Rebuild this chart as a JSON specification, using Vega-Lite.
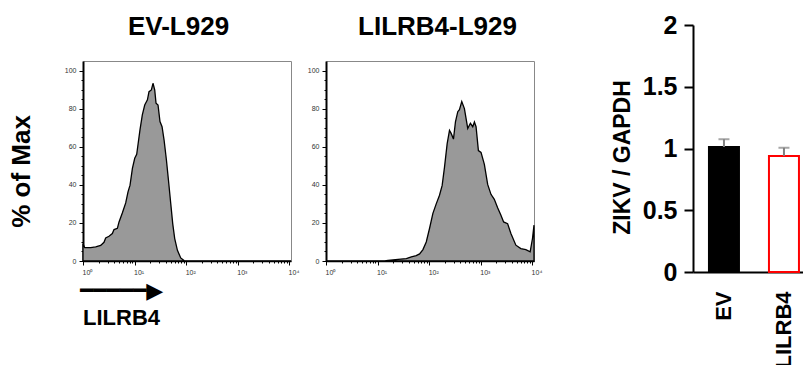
{
  "$schema": "https://vega.github.io/schema/vega-lite/v6.json",
  "padding": {"left": 7, "top": 12, "right": 0, "bottom": 0},
  "background": "white",
  "spacing": 68,
  "config": {
    "font": "Liberation Sans",
    "view": {"stroke": "#888", "strokeWidth": 1},
    "axis": {"labelFont": "Liberation Sans", "titleFont": "Liberation Sans", "grid": false},
    "title": {"font": "Liberation Sans"}
  },
  "datasets": {
    "ev": [
      {"fl": 1.0, "pct": 9},
      {"fl": 1.08, "pct": 7.0},
      {"fl": 1.41, "pct": 7.0},
      {"fl": 1.76, "pct": 7.4},
      {"fl": 2.2, "pct": 8.2},
      {"fl": 2.55, "pct": 9.8},
      {"fl": 2.75, "pct": 12.1},
      {"fl": 3.19, "pct": 13},
      {"fl": 3.7, "pct": 14.4},
      {"fl": 3.99, "pct": 16.5},
      {"fl": 4.64, "pct": 17.2},
      {"fl": 4.99, "pct": 20.5},
      {"fl": 5.8, "pct": 25.3},
      {"fl": 6.72, "pct": 30.5},
      {"fl": 7.45, "pct": 36.3},
      {"fl": 8.15, "pct": 39.8},
      {"fl": 9.06, "pct": 48.6},
      {"fl": 10.05, "pct": 53.9},
      {"fl": 10.97, "pct": 56},
      {"fl": 11.6, "pct": 60.9},
      {"fl": 12.7, "pct": 68.8},
      {"fl": 14.1, "pct": 76.7},
      {"fl": 15.7, "pct": 81.9},
      {"fl": 17.7, "pct": 84.6},
      {"fl": 19.0, "pct": 88.9},
      {"fl": 21.1, "pct": 89.8},
      {"fl": 22.7, "pct": 93.3},
      {"fl": 24.5, "pct": 89.8},
      {"fl": 26.0, "pct": 82.8},
      {"fl": 28.4, "pct": 81.9},
      {"fl": 31.0, "pct": 73.2},
      {"fl": 34.0, "pct": 70.5},
      {"fl": 37.2, "pct": 63.5},
      {"fl": 41.3, "pct": 53},
      {"fl": 45.2, "pct": 42.5},
      {"fl": 50.1, "pct": 30.2},
      {"fl": 54.7, "pct": 19.6},
      {"fl": 59.8, "pct": 11.8},
      {"fl": 67.5, "pct": 5.6},
      {"fl": 78.2, "pct": 1.6},
      {"fl": 90.7, "pct": 0.2},
      {"fl": 105, "pct": 0},
      {"fl": 10700, "pct": 0}
    ],
    "lilrb4": [
      {"fl": 1.0, "pct": 0},
      {"fl": 13.7, "pct": 0},
      {"fl": 15.9, "pct": 0.3},
      {"fl": 24.9, "pct": 0.9},
      {"fl": 36, "pct": 1.3},
      {"fl": 45, "pct": 2.2},
      {"fl": 56, "pct": 2.8},
      {"fl": 65, "pct": 3.7},
      {"fl": 75.5, "pct": 6},
      {"fl": 87.5, "pct": 10},
      {"fl": 101.5, "pct": 17.2},
      {"fl": 117.7, "pct": 25},
      {"fl": 136.5, "pct": 30},
      {"fl": 158, "pct": 34.5},
      {"fl": 178, "pct": 39.7},
      {"fl": 197.6, "pct": 49.3},
      {"fl": 222.5, "pct": 61.6},
      {"fl": 246.7, "pct": 68.6},
      {"fl": 265.7, "pct": 67},
      {"fl": 294.6, "pct": 64},
      {"fl": 322, "pct": 73},
      {"fl": 357, "pct": 78.4},
      {"fl": 384.6, "pct": 79.5},
      {"fl": 426.6, "pct": 83.7},
      {"fl": 480, "pct": 80},
      {"fl": 557, "pct": 69.6},
      {"fl": 627, "pct": 72.3},
      {"fl": 696, "pct": 70.5},
      {"fl": 750, "pct": 73},
      {"fl": 807, "pct": 70.5},
      {"fl": 896, "pct": 58},
      {"fl": 1007, "pct": 57},
      {"fl": 1169, "pct": 50.7},
      {"fl": 1355, "pct": 40.2},
      {"fl": 1570, "pct": 35},
      {"fl": 1822, "pct": 32.4},
      {"fl": 2113, "pct": 28},
      {"fl": 2449, "pct": 24},
      {"fl": 2759, "pct": 20.5},
      {"fl": 3296, "pct": 19.6},
      {"fl": 3820, "pct": 14.4},
      {"fl": 4767, "pct": 8.3},
      {"fl": 5952, "pct": 6.5},
      {"fl": 7430, "pct": 6},
      {"fl": 9015, "pct": 4.8},
      {"fl": 10000, "pct": 11.8},
      {"fl": 10700, "pct": 18.8}
    ],
    "bars": [
      {"group": "EV", "value": 1.012, "upper": 1.075},
      {"group": "LILRB4", "value": 0.94, "upper": 1.006}
    ]
  },
  "hconcat": [
    {
      "spacing": 6,
      "hconcat": [
        {
          "width": 208,
          "height": 200,
          "data": {"name": "ev"},
          "encoding": {
            "y": {
              "field": "pct", "type": "quantitative",
              "scale": {"domain": [0, 105], "nice": false},
              "axis": {
                "values": [0,5,10,15,20,25,30,35,40,45,50,55,60,65,70,75,80,85,90,95,100],
                "labelExpr": "datum.value % 20 === 0 ? datum.label : ''",
                "tickSize": {"condition": {"test": "datum.value % 20 === 0", "value": 4}, "value": 2},
                "labelFontSize": 7, "labelColor": "#333", "labelPadding": 3, "labelOverlap": false,
                "domainColor": "black", "domainWidth": 2, "tickColor": "black",
                "title": "% of Max", "titleFontSize": 26, "titleFontWeight": "bold", "titleColor": "black",
                "titlePadding": 30, "titleY": 110
              }
            }
          },
          "layer": [
            {
              "mark": {"type": "area", "fill": "#999999", "stroke": "black", "strokeWidth": 1.3},
              "encoding": {
                "x": {
                  "field": "fl", "type": "quantitative",
                  "scale": {"type": "log", "domain": [1, 10700], "nice": false},
                  "axis": {
                    "orient": "bottom",
                    "values": [1,2,3,4,5,6,7,8,9,10,20,30,40,50,60,70,80,90,100,200,300,400,500,600,700,800,900,1000,2000,3000,4000,5000,6000,7000,8000,9000,10000],
                    "labelExpr": "datum.value == 1 ? '10⁰' : datum.value == 10 ? '10¹' : datum.value == 100 ? '10²' : datum.value == 1000 ? '10³' : datum.value == 10000 ? '10⁴' : ''",
                    "tickSize": {"condition": {"test": "datum.value == 1 || datum.value == 10 || datum.value == 100 || datum.value == 1000 || datum.value == 10000", "value": 4}, "value": 2},
                    "labelFontSize": 7, "labelColor": "#333", "labelOverlap": false, "labelFlush": false,
                    "labelPadding": 3, "labelOffset": 4,
                    "domainColor": "black", "domainWidth": 1.5, "tickColor": "black",
                    "title": ["━━━━━▶", "LILRB4"],
                    "titleFont": "Liberation Sans, DejaVu Sans",
                    "titleFontSize": 22, "titleFontWeight": "bold", "titleColor": "black",
                    "titleAlign": "center", "titleX": 38, "titlePadding": 5, "titleLineHeight": 27
                  }
                }
              }
            },
            {
              "mark": {"type": "area", "opacity": 0},
              "encoding": {
                "x": {
                  "field": "fl", "type": "quantitative",
                  "scale": {"type": "log", "domain": [1, 10700], "nice": false},
                  "axis": {
                    "orient": "top", "labels": false, "ticks": false, "domain": false, "minExtent": 0,
                    "title": "EV-L929", "titleFontSize": 26, "titleFontWeight": "bold", "titleColor": "black",
                    "titleAlign": "center", "titleX": 95, "titlePadding": 22
                  }
                }
              }
            }
          ],
          "resolve": {"axis": {"x": "independent"}}
        },
        {
          "width": 208,
          "height": 200,
          "data": {"name": "lilrb4"},
          "encoding": {
            "y": {
              "field": "pct", "type": "quantitative",
              "scale": {"domain": [0, 105], "nice": false},
              "axis": {
                "values": [0,5,10,15,20,25,30,35,40,45,50,55,60,65,70,75,80,85,90,95,100],
                "labelExpr": "datum.value % 20 === 0 ? datum.label : ''",
                "tickSize": {"condition": {"test": "datum.value % 20 === 0", "value": 4}, "value": 2},
                "labelFontSize": 7, "labelColor": "#333", "labelPadding": 3, "labelOverlap": false,
                "domainColor": "black", "domainWidth": 2, "tickColor": "black",
                "title": null
              }
            }
          },
          "layer": [
            {
              "mark": {"type": "area", "fill": "#999999", "stroke": "black", "strokeWidth": 1.3},
              "encoding": {
                "x": {
                  "field": "fl", "type": "quantitative",
                  "scale": {"type": "log", "domain": [1, 10700], "nice": false},
                  "axis": {
                    "orient": "bottom",
                    "values": [1,2,3,4,5,6,7,8,9,10,20,30,40,50,60,70,80,90,100,200,300,400,500,600,700,800,900,1000,2000,3000,4000,5000,6000,7000,8000,9000,10000],
                    "labelExpr": "datum.value == 1 ? '10⁰' : datum.value == 10 ? '10¹' : datum.value == 100 ? '10²' : datum.value == 1000 ? '10³' : datum.value == 10000 ? '10⁴' : ''",
                    "tickSize": {"condition": {"test": "datum.value == 1 || datum.value == 10 || datum.value == 100 || datum.value == 1000 || datum.value == 10000", "value": 4}, "value": 2},
                    "labelFontSize": 7, "labelColor": "#333", "labelOverlap": false, "labelFlush": false,
                    "labelPadding": 3, "labelOffset": 4,
                    "domainColor": "black", "domainWidth": 1.5, "tickColor": "black",
                    "title": null
                  }
                }
              }
            },
            {
              "mark": {"type": "area", "opacity": 0},
              "encoding": {
                "x": {
                  "field": "fl", "type": "quantitative",
                  "scale": {"type": "log", "domain": [1, 10700], "nice": false},
                  "axis": {
                    "orient": "top", "labels": false, "ticks": false, "domain": false, "minExtent": 0,
                    "title": "LILRB4-L929", "titleFontSize": 26, "titleFontWeight": "bold", "titleColor": "black",
                    "titleAlign": "center", "titleX": 111, "titlePadding": 22
                  }
                }
              }
            }
          ],
          "resolve": {"axis": {"x": "independent"}}
        }
      ]
    },
    {
      "width": 111,
      "height": 211,
      "view": {"stroke": null},
      "data": {"name": "bars"},
      "encoding": {
        "x": {
          "field": "group", "type": "nominal", "sort": ["EV", "LILRB4"],
          "scale": {"paddingInner": 0.5, "paddingOuter": 0.175, "align": 0.76},
          "axis": {
            "labelAngle": -90, "labelFontSize": 22, "labelFontWeight": "bold", "labelColor": "black",
            "ticks": false, "labelPadding": 19, "domainColor": "black", "domainWidth": 2, "title": null
          }
        }
      },
      "layer": [
        {
          "mark": {"type": "bar", "strokeWidth": 2},
          "encoding": {
            "y": {
              "field": "value", "type": "quantitative", "title": "ZIKV / GAPDH",
              "scale": {"domain": [0, 2], "nice": false, "range": [211, -36]},
              "axis": {
                "values": [0, 0.5, 1, 1.5, 2], "format": "~g",
                "labelFontSize": 25, "labelFontWeight": "bold", "labelColor": "black", "labelPadding": 7,
                "domainColor": "black", "domainWidth": 2, "tickColor": "black", "tickWidth": 2, "tickSize": 9,
                "titleFontSize": 23, "titleFontWeight": "bold", "titleColor": "black", "titlePadding": 8, "titleY": 96
              }
            },
            "fill": {"field": "group", "type": "nominal", "scale": {"domain": ["EV", "LILRB4"], "range": ["black", "white"]}, "legend": null},
            "stroke": {"field": "group", "type": "nominal", "scale": {"domain": ["EV", "LILRB4"], "range": ["black", "red"]}, "legend": null}
          }
        },
        {
          "mark": {"type": "rule", "color": "#808080", "strokeWidth": 2},
          "encoding": {
            "y": {"field": "value", "type": "quantitative", "title": "ZIKV / GAPDH"},
            "y2": {"field": "upper"}
          }
        },
        {
          "mark": {"type": "tick", "color": "#808080", "thickness": 2, "size": 11},
          "encoding": {
            "y": {"field": "upper", "type": "quantitative", "title": "ZIKV / GAPDH"}
          }
        }
      ]
    }
  ]
}
